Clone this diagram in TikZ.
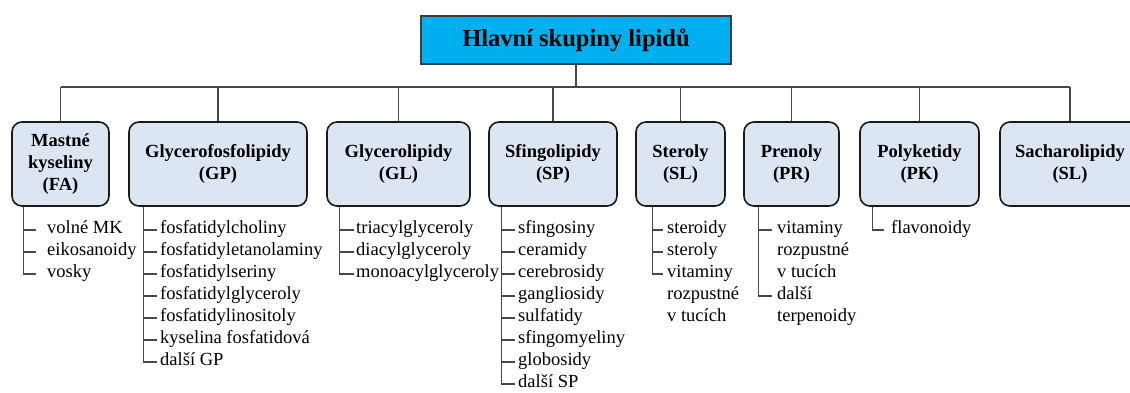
\documentclass[tikz,border=0pt]{standalone}
\usepackage{fontspec}
\setmainfont{Liberation Serif}
\usetikzlibrary{positioning, calc}
\definecolor{lipidCyan}{RGB}{0,176,240}
\definecolor{softBlue}{RGB}{220,230,242}
\definecolor{darkText}{RGB}{25,25,25}
\tikzset{
    rootbox/.style={
        rectangle,
        draw=darkText!85,
        line width=1.6pt,
        fill=lipidCyan,
        minimum width=310pt,
        minimum height=48pt,
        font=\fontsize{24.5}{28}\selectfont\bfseries
    },
    groupbox/.style={
        rectangle,
        draw=darkText,
        line width=1.6pt,
        rounded corners=10pt,
        align=center,
        fill=softBlue,
        minimum height=84pt,
        inner sep=2pt,
        font=\fontsize{18.5}{22}\selectfont\bfseries
    },
    itemtext/.style={
        anchor=west,
        inner xsep=3pt,
        inner ysep=0pt,
        text height=11pt,
        text depth=4pt,
        font=\fontsize{18.5}{22}\selectfont
    },
    busline/.style={draw=darkText!80, line width=1.1pt},
    listline/.style={draw=darkText!80, line width=1.1pt}
}
\begin{document}
\begin{tikzpicture}[x=1pt, y=-1pt]
    \useasboundingbox (0,0) rectangle (1130,392);
    % root and groups
    \node[rootbox] (root) at (576,40) {Hlavní skupiny lipidů};
    \node[groupbox, minimum width=97pt]  (fa) at (60.5,164)  {Mastné\\kyseliny\\(FA)};
    \node[groupbox, minimum width=178pt] (gp) at (218,164)   {Glycerofosfolipidy\\(GP)};
    \node[groupbox, minimum width=143pt] (gl) at (398.5,164) {Glycerolipidy\\(GL)};
    \node[groupbox, minimum width=128pt] (sp) at (553,164)   {Sfingolipidy\\(SP)};
    \node[groupbox, minimum width=89pt]  (sl) at (680.5,164) {Steroly\\(SL)};
    \node[groupbox, minimum width=95pt]  (pr) at (791.5,164) {Prenoly\\(PR)};
    \node[groupbox, minimum width=119pt] (pk) at (919.5,164) {Polyketidy\\(PK)};
    \node[groupbox, minimum width=140pt] (sa) at (1070,164)  {Sacharolipidy\\(SL)};
    % tree bus
    \coordinate (bus) at (576,87);
    \draw[busline] (root.south) -- (bus);
    \draw[busline] (fa.north |- bus) -- (sa.north |- bus);
    \foreach \g in {fa,gp,gl,sp,sl,pr,pk,sa}
        \draw[busline] (\g.north |- bus) -- (\g.north);
    % item lists
    \foreach \t [count=\i] in {volné MK, eikosanoidy, vosky}
        \node[itemtext, inner xsep=11pt] (fa\i) at (36,208+22*\i) {\t};
    \foreach \t [count=\i] in {fosfatidylcholiny, fosfatidyletanolaminy, fosfatidylseriny,
        fosfatidylglyceroly, fosfatidylinositoly, kyselina fosfatidová, další GP}
        \node[itemtext] (gp\i) at (157,208+22*\i) {\t};
    \foreach \t [count=\i] in {triacylglyceroly, diacylglyceroly, monoacylglyceroly}
        \node[itemtext, inner xsep=2pt] (gl\i) at (354,208+22*\i) {\t};
    \foreach \t [count=\i] in {sfingosiny, ceramidy, cerebrosidy, gangliosidy,
        sulfatidy, sfingomyeliny, globosidy, další SP}
        \node[itemtext] (sp\i) at (515,208+22*\i) {\t};
    \foreach \t [count=\i] in {steroidy, steroly, vitaminy, rozpustné, v tucích}
        \node[itemtext, inner xsep=4pt] (sl\i) at (663,208+22*\i) {\t};
    \foreach \t [count=\i] in {vitaminy, rozpustné, v tucích, další, terpenoidy}
        \node[itemtext, inner xsep=5pt] (pr\i) at (772,208+22*\i) {\t};
    \node[itemtext, inner xsep=7pt] (pk1) at (884,230) {flavonoidy};
    % list branches
    \coordinate (faL) at ($(fa.south west)+(12,0)$);
    \coordinate (gpL) at ($(gp.south west)+(15,0)$);
    \coordinate (glL) at ($(gl.south west)+(13,0)$);
    \coordinate (spL) at ($(sp.south west)+(13,0)$);
    \coordinate (slL) at ($(sl.south west)+(17,0)$);
    \coordinate (prL) at ($(pr.south west)+(15,0)$);
    \coordinate (pkL) at ($(pk.south west)+(13,0)$);
    \draw[listline] (faL) |- (fa3.west);
    \draw[listline] (gpL) |- (gp7.west);
    \draw[listline] (glL) |- (gl3.west);
    \draw[listline] (spL) |- (sp8.west);
    \draw[listline] (slL) |- (sl3.west);
    \draw[listline] (prL) |- (pr4.west);
    \draw[listline] (pkL) |- (pk1.west);
    \foreach \i in {1,2}
        \draw[listline] (fa\i.west -| faL) -- (fa\i.west);
    \foreach \i in {1,...,6}
        \draw[listline] (gp\i.west -| gpL) -- (gp\i.west);
    \foreach \i in {1,2}
        \draw[listline] (gl\i.west -| glL) -- (gl\i.west);
    \foreach \i in {1,...,7}
        \draw[listline] (sp\i.west -| spL) -- (sp\i.west);
    \foreach \i in {1,2}
        \draw[listline] (sl\i.west -| slL) -- (sl\i.west);
    \draw[listline] (pr1.west -| prL) -- (pr1.west);
\end{tikzpicture}
\end{document}
